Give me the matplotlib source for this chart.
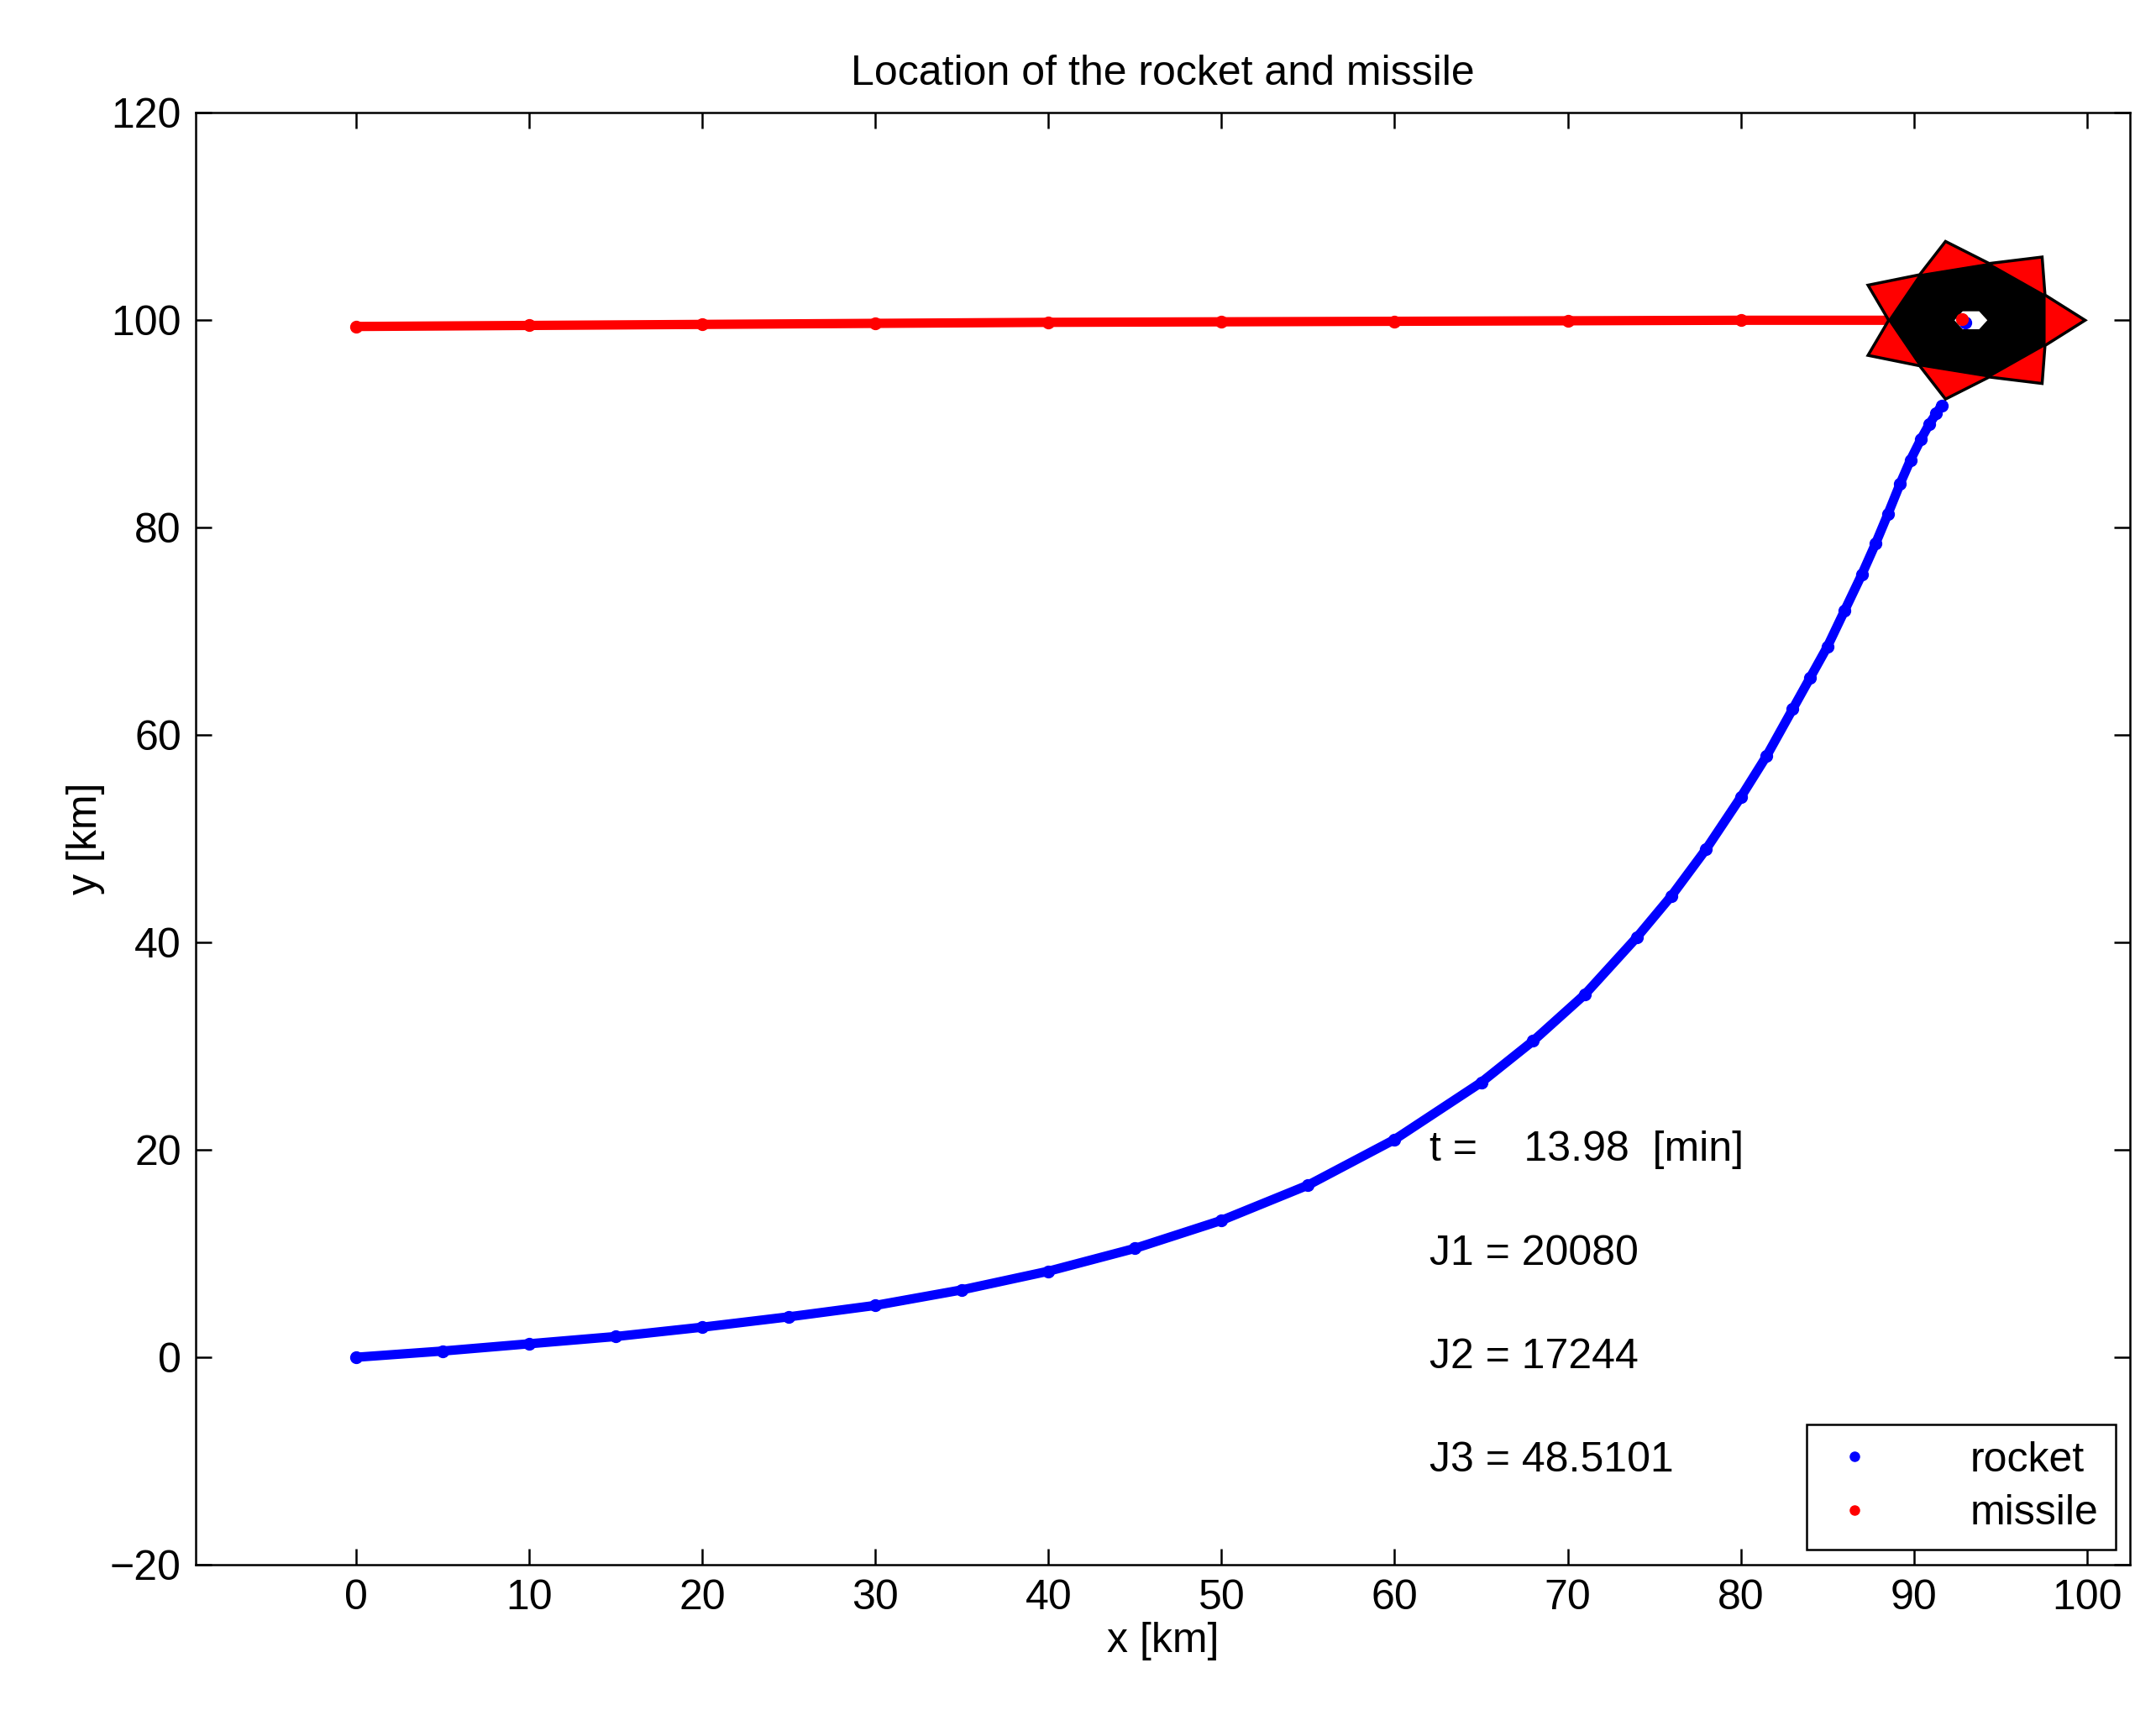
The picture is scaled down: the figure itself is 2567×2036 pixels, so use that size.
import numpy as np
import matplotlib.pyplot as plt
from matplotlib.patches import Polygon

plt.rcParams['font.family'] = ['Liberation Sans', 'DejaVu Sans']

# rocket trajectory (x, y in km)
rocket_x = [0, 5, 10, 15, 20, 25, 30, 35, 40, 45, 50, 55, 60, 65, 68, 71, 74, 76, 78,
            80, 81.5, 83, 84, 85, 86, 87, 87.8, 88.5, 89.2, 89.8, 90.4, 90.9, 91.3, 91.6]
rocket_y = [0, 0.6, 1.3, 2.0, 2.9, 3.9, 5.0, 6.5, 8.3, 10.5, 13.2, 16.6, 21.0, 26.5, 30.5,
            35.0, 40.5, 44.5, 49.0, 54.0, 58.0, 62.5, 65.5, 68.5, 72.0, 75.5, 78.5, 81.3,
            84.2, 86.5, 88.5, 90.0, 91.0, 91.8]
# missile trajectory
missile_x = [0, 10, 20, 30, 40, 50, 60, 70, 80, 90, 93]
missile_y = [99.4, 99.5, 99.6, 99.7, 99.8, 99.85, 99.9, 99.95, 100.0, 100.0, 100.0]

t_min = 13.98
J1, J2, J3 = 20080, 17244, 48.5101
hit = (93.3, 100.0)

fig = plt.figure(figsize=(25.67, 20.36), dpi=100)
ax = fig.add_axes([0.0906, 0.085, 0.8974, 0.849])

ax.plot(missile_x, missile_y, color='red', lw=8, solid_capstyle='round', zorder=2)
ax.plot(missile_x, missile_y, '.', color='red', ms=20, zorder=2, label='missile')
ax.plot(rocket_x, rocket_y, color='blue', lw=8, solid_capstyle='round', zorder=2)
ax.plot(rocket_x, rocket_y, '.', color='blue', ms=20, zorder=2, label='rocket')

# explosion star
ang_out = np.deg2rad(np.arange(7) * 360 / 7)
ang_in = ang_out + np.pi / 7
rx, ry = 6.6, 7.8
k = 0.72
pts = []
for a, b in zip(ang_out, ang_in):
    pts.append((hit[0] + rx * np.cos(a), hit[1] + ry * np.sin(a)))
    pts.append((hit[0] + k * rx * np.cos(b), hit[1] + k * ry * np.sin(b)))
ax.add_patch(Polygon(pts, closed=True, fc='red', ec='black', lw=2.5, zorder=3))
inner = [(hit[0] + k * rx * np.cos(b), hit[1] + k * ry * np.sin(b)) for b in ang_in]
ax.add_patch(Polygon(inner, closed=True, fc='black', ec='black', lw=1, zorder=4))
hole = [(hit[0] + 0.95 * np.cos(a), hit[1] + 1.0 * np.sin(a))
        for a in np.deg2rad(np.arange(6) * 60)]
ax.add_patch(Polygon(hole, closed=True, fc='white', ec='none', zorder=5))
ax.plot([hit[0] - 0.3], [hit[1] - 0.2], '.', color='blue', ms=20, zorder=6)
ax.plot([hit[0] - 0.5], [hit[1] + 0.1], '.', color='red', ms=20, zorder=6)

fs = 36
ax.text(62, 20, f't =    {t_min:.2f}  [min]', fontsize=fs, va='center')
ax.text(62, 10, f'J1 = {J1}', fontsize=fs, va='center')
ax.text(62, 0, f'J2 = {J2}', fontsize=fs, va='center')
ax.text(62, -10, f'J3 = {J3}', fontsize=fs, va='center')

h, l = ax.get_legend_handles_labels()
leg = ax.legend([h[1], h[0]], [l[1], l[0]], loc='lower right', fontsize=fs,
                fancybox=False, edgecolor='black', framealpha=1, markerscale=0.8,
                handlelength=1.5, handletextpad=2.0, borderaxespad=0.35,
                labelspacing=0.35)
leg.get_frame().set_linewidth(1.8)

ax.set_xlim(-9.3, 102.5)
ax.set_ylim(-20, 120)
ax.set_xticks(range(0, 101, 10))
ax.set_yticks(range(-20, 121, 20))
ax.set_yticklabels(['\u221220'] + [str(v) for v in range(0, 121, 20)])
ax.tick_params(direction='in', top=True, right=True, length=14, width=1.8,
               labelsize=fs, pad=12)
for s in ax.spines.values():
    s.set_linewidth(1.8)
ax.set_xlabel('x [km]', fontsize=fs, labelpad=4)
ax.set_ylabel('y [km]', fontsize=fs)
ax.set_title('Location of the rocket and missile', fontsize=fs, pad=24)

fig.savefig('out.png', dpi=100)
